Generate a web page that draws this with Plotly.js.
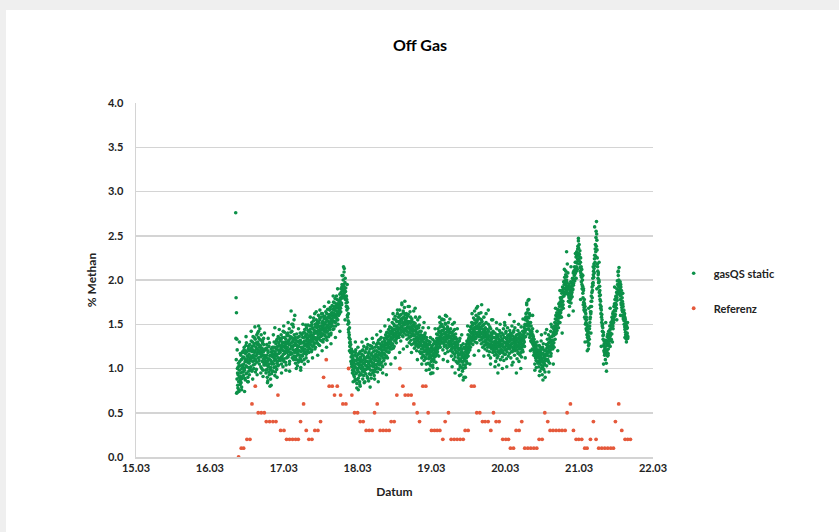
<!DOCTYPE html>
<html><head><meta charset="utf-8">
<script src="https://cdn.plot.ly/plotly-3.0.1.min.js"></script>
<style>
html,body{margin:0;padding:0;background:#efefef;width:839px;height:532px;overflow:hidden}
#chart{position:absolute;left:6px;top:10px;width:833px;height:522px;background:#fff}
</style></head><body><div id="chart"></div>
<script>
const dayTicks = [15,16,17,18,19,20,21,22];
const dayTickLabels = ['15.03','16.03','17.03','18.03','19.03','20.03','21.03','22.03'];

// gasQS static: logger samples starting 16.03 ~08:24, one value every 0.0025 day
// (stored as two interleaved halves: A at even samples, B at odd samples)
const gasStart = 16.35;
const gasStep = 0.005;
const gasValuesA = [
2.76,1.80,1.63,1.33,1.21,0.95,0.78,1.02,0.85,0.74,0.98,1.08,0.82,0.91,1.15,0.88,0.79,1.04,0.96,1.12,
1.18,0.92,1.05,1.24,0.98,1.11,0.87,1.20,1.03,1.29,0.95,1.14,1.07,0.90,1.22,1.01,1.16,0.93,1.27,1.09,
1.20,1.02,1.31,1.12,0.97,1.25,1.08,1.36,1.15,1.00,1.28,1.18,1.05,1.33,1.10,1.24,0.99,1.38,1.16,1.27,
1.30,1.12,1.42,1.20,1.05,1.33,1.17,1.26,1.02,1.38,1.14,1.23,1.08,1.31,0.98,1.19,1.27,1.06,1.15,1.22,
1.04,1.21,0.95,1.12,1.27,0.99,1.08,0.86,1.18,1.02,1.25,0.93,1.10,0.80,1.15,1.01,1.22,0.94,1.07,1.17,
1.13,0.97,1.24,1.05,1.30,1.09,0.92,1.19,1.02,1.28,1.14,0.99,1.33,1.08,1.21,1.36,1.04,1.17,1.26,1.11,
1.31,1.09,1.22,1.38,1.05,1.27,1.14,1.35,1.02,1.20,1.29,1.11,1.41,1.17,1.26,1.07,1.33,1.21,1.12,1.37,
1.24,1.40,1.13,1.31,1.19,1.45,1.08,1.28,1.36,1.16,1.65,1.25,1.42,1.12,1.30,1.21,1.47,1.10,1.34,1.26,
1.18,1.35,1.06,1.27,1.14,1.39,1.22,1.03,1.30,1.16,1.25,1.09,1.36,1.20,1.12,1.32,1.01,1.24,1.15,1.38,
1.29,1.14,1.40,1.22,1.35,1.10,1.31,1.44,1.19,1.27,1.38,1.16,1.46,1.25,1.33,1.21,1.49,1.30,1.18,1.41,
1.36,1.22,1.48,1.30,1.41,1.19,1.52,1.33,1.25,1.45,1.38,1.57,1.27,1.43,1.35,1.50,1.24,1.40,1.55,1.32,
1.46,1.29,1.53,1.38,1.60,1.34,1.47,1.26,1.55,1.41,1.36,1.58,1.44,1.31,1.51,1.62,1.39,1.48,1.33,1.56,
1.43,1.59,1.37,1.52,1.64,1.41,1.55,1.32,1.49,1.67,1.46,1.58,1.39,1.61,1.50,1.44,1.69,1.53,1.40,1.60,
1.56,1.71,1.48,1.63,1.54,1.75,1.45,1.66,1.58,1.79,1.52,1.68,1.61,1.82,1.55,1.73,1.64,1.50,1.77,1.69,
1.70,1.62,1.84,1.75,1.68,1.90,1.79,1.72,1.95,1.83,1.88,2.00,1.80,1.93,2.13,1.86,1.97,1.78,1.91,1.74,
1.82,1.66,1.75,1.58,1.50,1.62,1.41,1.35,1.46,1.25,1.30,1.18,1.08,1.22,1.02,1.14,0.95,1.10,1.19,0.99,
1.06,0.91,1.15,0.86,1.01,1.21,0.94,1.09,0.83,1.12,0.98,1.24,0.89,1.04,1.17,0.92,1.07,0.80,1.13,1.00,
1.10,0.93,1.20,1.02,0.88,1.15,1.06,1.25,0.96,1.11,0.85,1.18,1.03,0.99,1.22,1.08,0.91,1.14,1.27,1.01,
1.05,1.19,0.94,1.12,1.26,0.98,1.09,0.89,1.17,1.03,1.23,0.95,1.14,1.29,1.06,0.92,1.20,1.10,0.99,1.16,
1.13,1.27,1.01,1.19,0.96,1.24,1.08,1.32,1.15,1.04,1.28,1.11,0.99,1.22,1.35,1.07,1.18,1.30,1.02,1.25,
1.21,1.09,1.34,1.16,1.27,1.05,1.38,1.23,1.14,1.41,1.28,1.12,1.36,1.25,1.44,1.19,1.32,1.47,1.22,1.39,
1.30,1.46,1.22,1.39,1.52,1.28,1.43,1.35,1.56,1.25,1.48,1.37,1.59,1.32,1.45,1.29,1.53,1.41,1.62,1.36,
1.44,1.58,1.35,1.50,1.66,1.39,1.54,1.31,1.61,1.47,1.74,1.42,1.57,1.36,1.63,1.49,1.40,1.69,1.52,1.45,
1.55,1.38,1.62,1.46,1.33,1.59,1.50,1.70,1.41,1.53,1.29,1.47,1.64,1.36,1.51,1.43,1.27,1.56,1.39,1.48,
1.44,1.28,1.52,1.37,1.23,1.47,1.33,1.58,1.26,1.41,1.20,1.45,1.35,1.55,1.24,1.38,1.30,1.49,1.19,1.36,
1.33,1.17,1.42,1.26,1.12,1.37,1.22,1.46,1.15,1.30,1.09,1.35,1.20,1.40,1.11,1.27,1.05,1.32,1.18,1.24,
1.22,1.06,1.31,1.13,0.99,1.27,1.15,1.35,1.03,1.19,0.95,1.24,1.10,1.33,1.01,1.17,1.28,1.08,1.21,1.14,
1.18,1.30,1.07,1.25,1.39,1.16,1.32,1.22,1.45,1.28,1.14,1.41,1.35,1.52,1.24,1.37,1.48,1.29,1.43,1.56,
1.34,1.21,1.47,1.30,1.55,1.25,1.40,1.17,1.50,1.36,1.26,1.59,1.33,1.44,1.19,1.38,1.52,1.28,1.42,1.31,
1.36,1.20,1.45,1.29,1.14,1.40,1.25,1.50,1.18,1.33,1.10,1.38,1.23,1.44,1.13,1.27,1.35,1.08,1.30,1.19,
1.24,1.06,1.30,1.15,0.99,1.21,1.10,1.34,1.02,1.17,0.93,1.26,1.08,1.19,0.97,1.13,1.28,1.04,0.90,1.16,
1.09,1.22,1.01,1.15,1.27,1.12,1.31,1.06,1.24,1.38,1.18,1.34,1.26,1.43,1.21,1.37,1.47,1.29,1.40,1.52,
1.35,1.49,1.27,1.42,1.57,1.33,1.46,1.65,1.30,1.51,1.39,1.60,1.45,1.29,1.54,1.70,1.41,1.58,1.36,1.50,
1.47,1.32,1.56,1.40,1.63,1.28,1.45,1.53,1.35,1.24,1.49,1.38,1.58,1.30,1.42,1.22,1.46,1.36,1.52,1.27,
1.33,1.20,1.44,1.28,1.50,1.15,1.37,1.25,1.47,1.31,1.12,1.40,1.26,1.55,1.22,1.35,1.18,1.42,1.30,1.24,
1.29,1.15,1.40,1.22,1.08,1.34,1.25,1.45,1.12,1.30,1.19,1.38,1.04,1.27,1.43,1.17,1.32,1.10,1.36,1.21,
1.26,1.40,1.13,1.31,1.20,1.45,1.09,1.35,1.24,1.49,1.16,1.29,1.42,1.11,1.33,1.22,1.46,1.27,1.14,1.38,
1.30,1.17,1.43,1.25,1.36,1.12,1.39,1.28,1.48,1.19,1.33,1.07,1.41,1.23,1.35,1.15,1.46,1.29,1.21,1.37,
1.24,1.38,1.11,1.30,1.43,1.18,1.33,1.08,1.27,1.40,1.15,1.35,1.22,1.47,1.13,1.31,1.25,1.42,1.19,1.36,
1.34,1.47,1.25,1.41,1.55,1.36,1.62,1.44,1.74,1.50,1.58,1.39,1.67,1.45,1.78,1.52,1.35,1.60,1.42,1.31,
1.48,1.30,1.40,1.22,1.45,1.27,1.36,1.15,1.33,1.20,1.05,1.29,1.12,1.24,1.01,1.18,1.30,1.08,1.21,1.13,
1.17,1.02,1.26,1.09,0.97,1.21,1.13,1.31,1.00,1.16,0.93,1.24,1.07,1.28,0.99,1.14,1.04,1.20,0.90,1.11,
1.15,1.27,1.03,1.19,1.33,1.10,1.24,1.38,1.14,1.29,1.06,1.35,1.21,1.42,1.17,1.31,1.47,1.23,1.37,1.26,
1.32,1.45,1.24,1.38,1.52,1.33,1.47,1.60,1.40,1.55,1.43,1.67,1.50,1.62,1.46,1.73,1.57,1.70,1.52,1.80,
1.63,1.78,1.58,1.85,1.70,1.92,1.76,1.68,1.98,1.82,1.90,2.03,1.85,1.96,2.10,1.88,2.00,1.93,2.18,1.84,
1.90,1.76,1.82,1.95,1.70,1.86,1.78,1.98,1.74,1.88,1.93,1.81,2.02,1.89,2.08,1.96,2.08,2.05,1.99,2.12,
2.08,2.20,2.02,2.15,2.28,2.12,2.35,2.22,2.47,2.30,2.40,2.18,2.33,2.10,2.25,2.05,1.98,2.12,1.90,2.00,
1.85,1.72,1.90,1.66,1.78,1.58,1.70,1.50,1.62,1.45,1.55,1.38,1.47,1.30,1.42,1.22,1.36,1.28,1.45,1.52,
1.58,1.70,1.64,1.82,1.76,1.92,1.88,2.02,1.97,2.10,2.18,2.08,2.28,2.20,2.40,2.32,2.55,2.66,2.45,2.25,
2.15,2.02,2.08,1.92,1.98,1.82,1.88,1.72,1.76,1.62,1.66,1.52,1.55,1.42,1.46,1.33,1.38,1.20,1.28,1.15,
1.24,1.10,1.32,1.18,0.97,1.26,1.36,1.14,1.30,1.22,1.42,1.28,1.35,1.48,1.25,1.40,1.52,1.33,1.46,1.58,
1.50,1.62,1.45,1.58,1.70,1.55,1.66,1.78,1.61,1.74,1.82,1.68,1.90,1.77,1.95,1.84,2.05,1.88,2.14,1.92,
1.86,1.98,1.78,1.92,1.72,1.84,1.66,1.76,1.60,1.70,1.58,1.66,1.50,1.62,1.44,1.55,1.38,1.49,1.33,1.45,
1.40,1.52,1.36
];
const gasValuesB = [
1.34,1.10,0.72,0.88,1.00,0.81,0.93,1.06,0.76,0.90,1.03,0.87,1.17,0.95,0.84,1.10,1.00,0.89,1.19,1.02,
0.96,1.13,1.21,1.00,0.89,1.08,1.17,1.26,0.94,1.02,1.19,1.10,0.85,1.13,1.25,0.97,1.06,1.20,1.12,0.99,
1.09,1.23,1.14,0.98,1.19,1.30,1.21,1.04,1.12,1.26,1.35,1.09,1.20,0.96,1.14,1.29,1.22,1.07,1.18,1.40,
1.21,1.35,1.27,1.09,1.24,1.45,1.13,1.19,1.32,1.22,1.00,1.16,1.29,1.20,1.11,1.34,1.04,1.21,1.13,1.09,
1.13,0.98,1.06,1.23,1.15,0.90,1.03,1.20,1.11,0.96,1.05,1.29,1.14,0.99,0.88,1.09,1.19,1.05,0.97,1.24,
1.06,1.20,1.15,1.01,1.12,1.24,1.17,0.96,1.10,1.22,1.31,1.06,1.16,1.25,1.03,1.12,1.29,1.20,1.09,1.34,
1.18,1.25,1.33,1.13,1.21,1.10,1.30,1.24,1.42,1.16,1.08,1.25,1.35,1.19,1.30,1.23,1.04,1.28,1.39,1.18,
1.30,1.21,1.15,1.37,1.27,1.05,1.33,1.22,1.18,1.41,1.29,1.35,1.17,1.24,1.50,1.32,1.26,1.14,1.38,1.20,
1.29,1.13,1.21,1.32,1.10,1.26,1.18,1.35,1.24,1.07,1.20,1.31,1.15,1.28,1.40,1.11,1.19,1.29,1.08,1.22,
1.24,1.35,1.20,1.29,1.17,1.41,1.26,1.22,1.36,1.31,1.12,1.28,1.39,1.34,1.19,1.43,1.27,1.37,1.24,1.32,
1.30,1.44,1.27,1.38,1.33,1.49,1.21,1.36,1.46,1.31,1.54,1.29,1.40,1.34,1.22,1.47,1.42,1.33,1.29,1.51,
1.41,1.35,1.49,1.43,1.27,1.52,1.39,1.57,1.44,1.32,1.48,1.40,1.62,1.37,1.46,1.53,1.30,1.44,1.59,1.42,
1.50,1.38,1.46,1.57,1.44,1.35,1.62,1.48,1.42,1.54,1.58,1.36,1.52,1.45,1.66,1.57,1.47,1.38,1.55,1.63,
1.51,1.60,1.67,1.44,1.58,1.70,1.62,1.53,1.74,1.59,1.48,1.65,1.71,1.57,1.78,1.62,1.55,1.68,1.60,1.73,
1.66,1.77,1.71,1.80,1.64,1.86,1.74,1.92,1.81,1.89,2.05,1.84,1.95,2.09,1.90,1.82,2.02,1.87,1.80,1.70,
1.78,1.70,1.60,1.68,1.54,1.44,1.52,1.38,1.29,1.33,1.20,1.27,1.13,1.05,1.17,1.07,0.98,1.12,1.03,0.93,
0.97,1.09,1.02,0.88,1.18,1.05,0.95,1.14,1.00,0.87,1.06,1.16,0.96,1.10,1.01,0.85,1.19,1.04,0.94,1.08,
1.04,1.16,0.97,1.09,1.21,1.00,0.92,1.13,1.05,0.98,1.19,1.08,0.94,1.12,1.03,1.24,1.00,0.89,1.07,1.17,
1.12,1.00,1.08,1.22,1.03,0.93,1.15,1.07,1.25,1.11,0.98,1.06,1.19,1.02,1.13,0.96,1.09,1.24,1.04,1.14,
1.09,1.20,1.15,1.05,1.29,1.12,1.00,1.18,1.22,1.10,1.33,1.17,1.06,1.25,1.14,1.21,1.03,1.27,1.16,1.12,
1.26,1.17,1.24,1.31,1.12,1.29,1.20,1.35,1.27,1.19,1.33,1.23,1.40,1.30,1.18,1.37,1.28,1.24,1.42,1.33,
1.35,1.26,1.42,1.33,1.45,1.38,1.23,1.40,1.50,1.36,1.31,1.44,1.39,1.55,1.41,1.34,1.48,1.37,1.46,1.42,
1.40,1.53,1.46,1.38,1.60,1.51,1.44,1.56,1.41,1.48,1.55,1.37,1.52,1.65,1.45,1.58,1.50,1.43,1.61,1.55,
1.50,1.44,1.57,1.42,1.53,1.47,1.38,1.61,1.46,1.35,1.52,1.44,1.40,1.58,1.32,1.47,1.54,1.37,1.45,1.42,
1.39,1.49,1.33,1.43,1.30,1.51,1.38,1.29,1.44,1.35,1.48,1.31,1.27,1.40,1.33,1.46,1.25,1.34,1.42,1.29,
1.28,1.38,1.22,1.31,1.18,1.35,1.25,1.14,1.33,1.27,1.19,1.38,1.24,1.13,1.29,1.21,1.35,1.16,1.26,1.20,
1.17,1.28,1.11,1.21,1.05,1.18,1.30,1.12,1.23,1.08,1.20,1.14,1.26,1.04,1.16,1.22,1.10,1.31,1.13,1.19,
1.23,1.14,1.27,1.20,1.34,1.25,1.19,1.38,1.30,1.24,1.42,1.33,1.27,1.47,1.31,1.40,1.34,1.50,1.38,1.33,
1.39,1.29,1.43,1.35,1.27,1.45,1.32,1.51,1.38,1.30,1.41,1.34,1.23,1.47,1.36,1.29,1.44,1.35,1.25,1.40,
1.30,1.41,1.27,1.34,1.22,1.37,1.31,1.19,1.42,1.28,1.24,1.35,1.16,1.30,1.21,1.39,1.26,1.18,1.33,1.24,
1.18,1.27,1.12,1.22,1.08,1.31,1.16,1.04,1.23,1.11,1.19,1.01,1.14,1.22,1.07,1.17,1.00,1.12,1.24,1.09,
1.13,1.04,1.19,1.24,1.08,1.20,1.16,1.29,1.22,1.14,1.32,1.27,1.21,1.36,1.30,1.24,1.41,1.33,1.45,1.35,
1.40,1.32,1.45,1.38,1.51,1.43,1.36,1.55,1.41,1.47,1.34,1.52,1.40,1.48,1.37,1.56,1.46,1.38,1.62,1.44,
1.42,1.51,1.36,1.46,1.39,1.55,1.33,1.48,1.41,1.30,1.44,1.35,1.50,1.26,1.39,1.45,1.32,1.41,1.29,1.36,
1.29,1.39,1.24,1.34,1.42,1.27,1.32,1.19,1.36,1.28,1.45,1.23,1.33,1.38,1.26,1.30,1.40,1.21,1.35,1.27,
1.24,1.35,1.19,1.31,1.27,1.16,1.38,1.22,1.29,1.36,1.14,1.25,1.33,1.20,1.30,1.24,1.40,1.18,1.28,1.32,
1.21,1.33,1.27,1.18,1.38,1.24,1.30,1.16,1.35,1.29,1.21,1.40,1.26,1.34,1.19,1.31,1.37,1.23,1.30,1.25,
1.26,1.34,1.22,1.31,1.40,1.27,1.19,1.33,1.24,1.37,1.29,1.21,1.32,1.43,1.26,1.30,1.20,1.35,1.27,1.32,
1.30,1.21,1.34,1.25,1.17,1.39,1.27,1.22,1.36,1.31,1.24,1.29,1.18,1.33,1.38,1.26,1.21,1.35,1.28,1.32,
1.39,1.30,1.45,1.50,1.43,1.58,1.49,1.55,1.63,1.48,1.53,1.66,1.50,1.57,1.44,1.62,1.48,1.38,1.52,1.40,
1.37,1.42,1.33,1.29,1.38,1.21,1.31,1.25,1.18,1.28,1.14,1.22,1.17,1.09,1.26,1.13,1.20,1.15,1.06,1.17,
1.12,1.20,1.06,1.15,1.24,1.08,1.18,1.04,1.11,1.22,1.09,1.02,1.17,1.12,1.21,1.06,1.14,0.96,1.09,1.16,
1.20,1.09,1.23,1.15,1.26,1.18,1.08,1.29,1.21,1.33,1.19,1.25,1.30,1.14,1.26,1.36,1.28,1.32,1.22,1.40,
1.37,1.29,1.42,1.48,1.41,1.56,1.39,1.51,1.45,1.63,1.49,1.58,1.54,1.66,1.59,1.52,1.64,1.60,1.75,1.66,
1.72,1.66,1.80,1.75,1.88,1.81,1.72,1.90,1.86,1.95,1.84,1.99,1.91,2.06,1.94,1.87,2.04,1.97,1.90,2.08,
1.85,1.93,1.80,1.75,1.89,1.82,1.92,1.79,1.84,1.97,1.86,1.96,1.90,2.00,1.94,2.10,2.01,2.15,2.07,2.20,
2.14,2.26,2.10,2.32,2.19,2.24,2.38,2.28,2.36,2.22,2.29,2.26,2.14,2.20,2.08,2.15,2.03,1.95,2.06,1.93,
1.80,1.88,1.75,1.69,1.73,1.64,1.56,1.66,1.52,1.58,1.43,1.50,1.35,1.40,1.32,1.26,1.40,1.33,1.48,1.56,
1.64,1.62,1.76,1.70,1.86,1.80,1.96,1.94,2.06,2.03,2.13,2.24,2.16,2.35,2.27,2.48,2.38,2.52,2.34,2.18,
2.10,2.06,1.97,2.00,1.86,1.93,1.78,1.83,1.68,1.70,1.58,1.61,1.48,1.50,1.37,1.41,1.26,1.31,1.18,1.22,
1.16,1.29,1.21,1.06,1.31,1.20,1.27,1.39,1.17,1.34,1.26,1.38,1.31,1.44,1.37,1.32,1.45,1.50,1.39,1.54,
1.56,1.48,1.64,1.52,1.60,1.73,1.59,1.70,1.65,1.81,1.72,1.86,1.80,1.99,1.86,2.09,1.93,2.00,1.85,1.97,
1.90,1.82,1.95,1.74,1.88,1.69,1.80,1.64,1.73,1.56,1.65,1.54,1.59,1.47,1.57,1.41,1.52,1.36,1.48,1.39,
1.46,1.34
];
// scattered gasQS samples lying outside the dense band (day of March, % Methan)
const gasEdgeDays = [
16.37,16.40,16.43,16.47,16.49,16.52,16.56,16.58,16.61,16.64,16.66,16.69,16.72,16.74,16.78,16.79,16.83,16.86,16.88,16.91,
16.94,16.97,17.00,17.03,17.06,17.08,17.11,17.14,17.15,17.17,17.20,17.23,17.26,17.28,17.30,17.33,17.36,17.39,17.42,17.44,
17.46,17.49,17.52,17.55,17.58,17.61,17.64,17.67,17.70,17.73,17.76,17.79,17.81,17.83,17.86,17.89,17.92,17.94,17.97,17.99,
18.01,18.03,18.06,18.09,18.12,18.15,18.17,18.20,18.23,18.26,18.28,18.31,18.34,18.37,18.39,18.42,18.45,18.48,18.51,18.54,
18.57,18.60,18.62,18.64,18.67,18.70,18.73,18.76,18.78,18.81,18.84,18.87,18.90,18.93,18.96,18.99,19.02,19.05,19.08,19.11,
19.14,19.16,19.19,19.22,19.25,19.28,19.31,19.32,19.35,19.38,19.41,19.43,19.46,19.49,19.52,19.55,19.58,19.61,19.64,19.68,
19.71,19.74,19.77,19.80,19.83,19.86,19.88,19.90,19.93,19.96,19.99,20.02,20.06,20.09,20.12,20.15,20.18,20.21,20.24,20.27,
20.29,20.31,20.34,20.37,20.40,20.43,20.46,20.49,20.51,20.54,20.56,20.59,20.62,20.65,20.68,20.71,20.74,20.77,20.80,20.83,
20.86,20.89,20.92,20.95,20.99,21.02,21.05,21.08,21.11,21.13,21.16,21.19,21.21,21.24,21.27,21.30,21.33,21.36,21.39,21.42,
21.45,21.48,21.51,21.53,21.56,21.59,21.62,21.64
];
const gasEdgeValues = [
0.73,1.30,0.76,0.74,1.36,0.85,1.42,0.88,1.47,0.93,1.48,0.95,0.91,1.40,0.84,1.34,0.81,1.38,1.46,0.90,
1.44,0.95,1.48,0.98,1.52,0.97,1.50,1.55,1.60,1.00,1.45,0.98,1.50,1.05,1.49,1.08,1.58,1.12,1.62,1.64,
1.15,1.66,1.20,1.70,1.24,1.75,1.28,1.82,1.35,1.90,1.42,2.05,2.15,1.55,1.95,1.20,1.21,0.85,1.30,0.78,
0.76,0.82,1.30,0.84,1.33,0.86,0.79,1.34,0.88,1.38,0.85,1.42,0.95,1.48,0.93,1.55,1.05,1.62,1.12,1.66,
1.18,1.72,1.22,1.76,1.25,1.70,1.18,1.65,1.68,1.10,1.58,1.05,1.52,0.98,1.46,0.94,0.95,1.45,1.00,1.58,
1.55,1.10,1.60,1.08,1.56,1.02,1.52,0.95,1.45,0.92,1.38,0.87,0.90,1.48,1.05,1.62,1.15,1.68,1.20,1.72,
1.14,1.62,1.66,1.05,1.55,1.02,1.52,0.95,1.50,1.00,1.52,1.02,1.61,1.04,1.53,0.95,1.50,1.00,1.56,1.12,
1.72,1.77,1.20,1.60,0.98,1.42,0.92,1.38,0.87,1.40,1.44,0.96,1.50,1.05,1.68,1.20,1.88,1.40,2.12,2.32,
1.60,2.15,1.65,2.30,2.44,1.78,2.05,1.30,1.20,1.68,1.40,2.15,2.60,1.90,2.20,1.25,1.05,1.52,1.15,1.68,
1.30,1.92,1.55,2.10,1.60,1.85,1.35,1.30
];

// Referenz: hourly reference values (day of March, % Methan)
const refDays = [
16.389,16.425,16.457,16.502,16.543,16.570,16.615,16.655,16.696,16.737,
16.764,16.809,16.854,16.895,16.922,16.958,17.003,17.039,17.079,17.120,
17.161,17.197,17.228,17.269,17.305,17.341,17.382,17.422,17.463,17.499,
17.540,17.576,17.616,17.657,17.688,17.725,17.770,17.801,17.842,17.878,
17.923,17.959,18.000,18.036,18.076,18.117,18.158,18.198,18.230,18.266,
18.306,18.347,18.388,18.428,18.455,18.496,18.532,18.573,18.613,18.645,
18.685,18.726,18.762,18.807,18.839,18.884,18.924,18.956,19.001,19.042,
19.078,19.114,19.154,19.186,19.231,19.267,19.308,19.348,19.389,19.430,
19.457,19.497,19.542,19.578,19.614,19.655,19.691,19.727,19.768,19.804,
19.840,19.876,19.917,19.966,20.007,20.043,20.070,20.111,20.147,20.187,
20.223,20.264,20.305,20.345,20.386,20.426,20.458,20.499,20.535,20.575,
20.607,20.647,20.688,20.729,20.769,20.810,20.837,20.882,20.923,20.959,
20.995,21.035,21.076,21.107,21.153,21.193,21.229,21.265,21.306,21.347,
21.387,21.428,21.464,21.491,21.536,21.577,21.622,21.658,21.694
];
const refValues = [
0.0,0.1,0.1,0.2,0.2,0.6,0.8,0.5,0.5,0.5,
0.4,0.4,0.4,0.4,0.7,0.3,0.3,0.2,0.2,0.2,
0.2,0.2,0.4,0.6,0.3,0.2,0.2,0.3,0.3,0.4,
0.9,1.1,0.8,0.8,0.7,0.8,0.7,0.6,0.6,1.0,
0.7,0.5,0.5,0.4,0.4,0.3,0.3,0.3,0.5,0.6,
0.3,0.3,0.3,0.3,0.4,0.4,0.7,1.0,0.8,0.7,
0.7,0.7,0.6,0.5,0.4,0.8,0.8,0.5,0.3,0.3,
0.3,0.3,0.2,0.4,0.5,0.2,0.2,0.2,0.2,0.2,
0.3,0.3,0.8,0.8,0.5,0.5,0.4,0.4,0.4,0.3,
0.5,0.4,0.4,0.2,0.2,0.2,0.1,0.1,0.3,0.3,
0.4,0.1,0.1,0.1,0.1,0.1,0.2,0.2,0.5,0.4,
0.3,0.3,0.3,0.3,0.3,0.3,0.5,0.6,0.3,0.2,
0.2,0.2,0.1,0.1,0.2,0.4,0.2,0.1,0.1,0.1,
0.1,0.1,0.1,0.4,0.6,0.3,0.2,0.2,0.2
];

// merge the interleaved halves and the scattered samples into one series
const gasDays = [], gasValues = [];
const nGas = Math.max(gasValuesA.length, gasValuesB.length);
for (let i = 0; i < nGas; i++) {
  if (i < gasValuesA.length) { gasDays.push(gasStart + i * gasStep); gasValues.push(gasValuesA[i]); }
  if (i < gasValuesB.length) { gasDays.push(gasStart + (i + 0.5) * gasStep); gasValues.push(gasValuesB[i]); }
}
for (let i = 0; i < gasEdgeDays.length; i++) { gasDays.push(gasEdgeDays[i]); gasValues.push(gasEdgeValues[i]); }

const FONT = 'Lato, "Open Sans", Arial, sans-serif';

const traces = [
  {
    type: 'scatter', mode: 'markers', name: 'gasQS static', legendgroup: 'g1',
    x: gasDays, y: gasValues,
    marker: {color: '#0c9149', size: 3.6, line: {width: 0}}
  },
  {
    type: 'scatter', mode: 'markers', name: 'Referenz', legendgroup: 'g2',
    x: refDays, y: refValues,
    marker: {color: '#e5593b', size: 3.8, line: {width: 0}}
  }
];

const layout = {
  width: 833, height: 522,
  paper_bgcolor: '#ffffff', plot_bgcolor: '#ffffff',
  margin: {l: 130, r: 186, t: 93, b: 75},
  font: {family: FONT, color: '#222222'},
  title: {
    text: '<b>Off Gas</b>', xref: 'container', x: 0.497, xanchor: 'center',
    yref: 'container', y: 0.933, yanchor: 'middle',
    font: {family: FONT, size: 16, color: '#000000'}
  },
  xaxis: {
    range: [15, 22], tickvals: dayTicks, ticktext: dayTickLabels,
    showgrid: false, zeroline: false,
    showline: true, linecolor: '#d4d4d4', linewidth: 1.5,
    ticks: '', ticklabelstandoff: 0,
    tickfont: {family: FONT, size: 11, color: '#222222', weight: 'bold'},
    title: {text: 'Datum', standoff: 15, font: {family: FONT, size: 12, color: '#222222', weight: 'bold'}}
  },
  yaxis: {
    range: [0, 4], dtick: 0.5, tick0: 0, tickformat: '.1f',
    showgrid: true, gridcolor: '#d4d4d4', gridwidth: 1.5, zeroline: false,
    showline: true, linecolor: '#d4d4d4', linewidth: 1.5,
    ticks: '', ticklabelstandoff: 9,
    tickfont: {family: FONT, size: 11, color: '#222222', weight: 'bold'},
    title: {text: '% Methan', standoff: 8, font: {family: FONT, size: 12, color: '#222222', weight: 'bold'}}
  },
  showlegend: true,
  legend: {
    x: 1.04, xanchor: 'left', y: 0.56, yanchor: 'top',
    bgcolor: 'rgba(0,0,0,0)', borderwidth: 0,
    tracegroupgap: 16, itemwidth: 30,
    font: {family: FONT, size: 11, color: '#222222', weight: 'bold'}
  }
};

Plotly.newPlot('chart', traces, layout, {displayModeBar: false, staticPlot: true});
</script>
</body></html>
